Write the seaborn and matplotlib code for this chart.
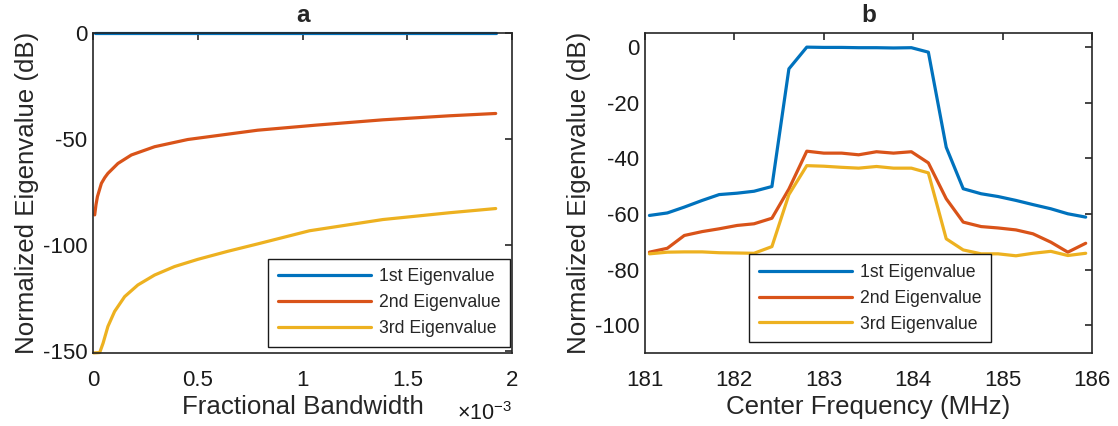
import matplotlib
matplotlib.use('Agg')
import matplotlib.pyplot as plt
import pandas as pd
import seaborn as sns

# ---- panel a: eigenvalue vs fractional bandwidth (x in units of 1e-3) ----
bw_1st = [0.008, 1.922]
eig1_a = [0.0, 0.0]

bw_2nd = [0.008, 0.014, 0.021, 0.040, 0.056, 0.071, 0.119, 0.183, 0.294,
          0.452, 0.611, 0.786, 1.065, 1.383, 1.700, 1.922]
eig2_a = [-85.8, -81.1, -77.2, -70.9, -68.2, -66.2, -61.5, -57.5, -53.6,
          -50.2, -48.1, -45.8, -43.4, -40.9, -39.0, -37.9]

bw_3rd = [0.003, 0.032, 0.048, 0.071, 0.103, 0.151, 0.214, 0.294, 0.389,
          0.500, 0.643, 0.786, 1.033, 1.383, 1.700, 1.922]
eig3_a = [-151.0, -150.8, -146.4, -138.5, -131.4, -124.4, -118.9, -114.2, -110.2,
          -106.8, -103.0, -99.5, -93.3, -88.0, -84.8, -82.8]

# ---- panel b: eigenvalue vs center frequency ----
freq_mhz = [181.05, 181.25, 181.44, 181.64, 181.83, 182.03, 182.22, 182.42, 182.61,
            182.81, 183.00, 183.20, 183.39, 183.59, 183.78, 183.98, 184.17, 184.37,
            184.56, 184.76, 184.95, 185.15, 185.34, 185.54, 185.73, 185.93]
eig1_b = [-60.5, -59.6, -57.5, -55.1, -53.0, -52.5, -51.8, -50.1, -7.8,
          0.0, -0.1, -0.1, -0.2, -0.2, -0.3, -0.2, -1.8, -36.0,
          -50.9, -52.7, -53.7, -55.1, -56.6, -58.1, -59.9, -61.1]
eig2_b = [-73.7, -72.3, -67.7, -66.3, -65.3, -64.1, -63.5, -61.5, -51.0,
          -37.4, -38.1, -38.1, -38.7, -37.6, -38.1, -37.6, -41.6, -54.5,
          -62.9, -64.5, -65.0, -65.7, -67.1, -70.1, -73.7, -70.5]
eig3_b = [-74.3, -73.7, -73.6, -73.6, -73.9, -74.0, -74.1, -71.7, -53.0,
          -42.6, -42.8, -43.2, -43.5, -42.9, -43.5, -43.5, -45.2, -68.9,
          -72.9, -74.3, -74.3, -75.0, -74.1, -73.4, -74.9, -74.1]

labels = ['1st Eigenvalue', '2nd Eigenvalue', '3rd Eigenvalue']
colors = ['#0072BD', '#D95319', '#EDB120']

sns.set_theme(style='white')
plt.rcParams['font.family'] = ['Liberation Sans', 'DejaVu Sans']
plt.rcParams['mathtext.fontset'] = 'custom'
plt.rcParams['mathtext.rm'] = 'Liberation Sans'
plt.rcParams['axes.unicode_minus'] = False
edge = '#262626'

fig = plt.figure(figsize=(11.18, 4.26), dpi=100)
ax_a = fig.add_axes([0.0832, 0.171, 0.3748, 0.751])
ax_b = fig.add_axes([0.5769, 0.171, 0.3998, 0.751])


def style_axes(ax):
    for sp in ax.spines.values():
        sp.set_visible(True)
        sp.set_color(edge)
        sp.set_linewidth(1.2)
    ax.tick_params(direction='in', length=5, width=1.2, color=edge,
                   top=True, right=True, labelsize=16, labelcolor='#1a1a1a')
    ax.tick_params(axis='x', pad=12)
    ax.tick_params(axis='y', pad=4)


def add_legend(ax, x0, y0):
    leg = ax.legend(loc='lower left', bbox_to_anchor=(x0, y0), borderaxespad=0,
                    fontsize=12.7, handlelength=5.3, handletextpad=0.45,
                    labelspacing=0.5, borderpad=0.55, fancybox=False,
                    framealpha=1, edgecolor='#1a1a1a')
    leg.get_frame().set_linewidth(1.0)


# panel a
for xs, ys, lab, col in [(bw_1st, eig1_a, labels[0], colors[0]),
                         (bw_2nd, eig2_a, labels[1], colors[1]),
                         (bw_3rd, eig3_a, labels[2], colors[2])]:
    df = pd.DataFrame({'x': xs, 'y': ys})
    sns.lineplot(data=df, x='x', y='y', ax=ax_a, color=col, lw=2.3,
                 label=lab, clip_on=False)
ax_a.set_xlim(0, 2)
ax_a.set_ylim(-151.1, 0)
ax_a.set_xticks([0, 0.5, 1, 1.5, 2])
ax_a.set_xticklabels(['0', '0.5', '1', '1.5', '2'])
ax_a.set_yticks([0, -50, -100, -150])
style_axes(ax_a)
ax_a.set_xlabel('Fractional Bandwidth', fontsize=18.6, labelpad=3)
ax_a.set_ylabel('Normalized Eigenvalue (dB)', fontsize=18.6, labelpad=3)
ax_a.set_title('a', fontsize=17.5, fontweight='bold', pad=8)
ax_a.text(1.0, -0.208, r'$\times10^{-3}$', transform=ax_a.transAxes,
          ha='right', va='baseline', fontsize=15.5, color='#1a1a1a')
add_legend(ax_a, 0.418, 0.02)

# panel b
for ys, lab, col in zip([eig1_b, eig2_b, eig3_b], labels, colors):
    df = pd.DataFrame({'x': freq_mhz, 'y': ys})
    sns.lineplot(data=df, x='x', y='y', ax=ax_b, color=col, lw=2.3, label=lab)
ax_b.set_xlim(181, 186)
ax_b.set_ylim(-110, 5)
ax_b.set_xticks([181, 182, 183, 184, 185, 186])
ax_b.set_yticks([0, -20, -40, -60, -80, -100])
style_axes(ax_b)
ax_b.set_xlabel('Center Frequency (MHz)', fontsize=18.6, labelpad=3)
ax_b.set_ylabel('Normalized Eigenvalue (dB)', fontsize=18.6, labelpad=3)
ax_b.set_title('b', fontsize=17.5, fontweight='bold', pad=8)
add_legend(ax_b, 0.233, 0.034)

fig.savefig('out.png', dpi=100, facecolor='white')
